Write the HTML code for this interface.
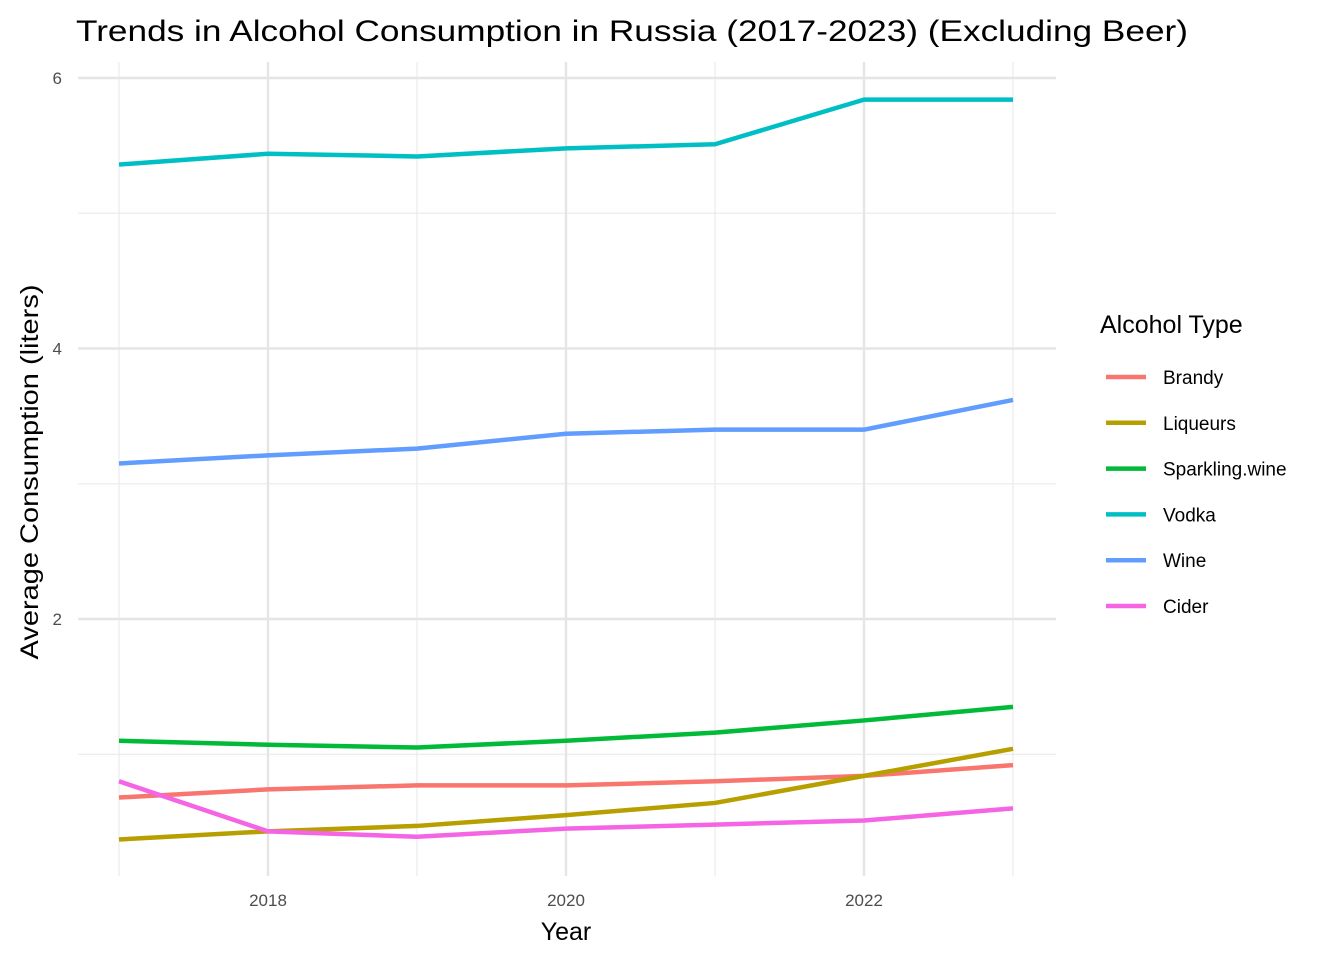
<!DOCTYPE html>
<html><head><meta charset="utf-8"><style>
body{margin:0;background:#fff;}
svg text{font-family:"Liberation Sans",Arial,sans-serif;}
</style></head><body>
<svg id="chart" width="1344" height="960" xmlns="http://www.w3.org/2000/svg">
<text x="76" y="41" font-size="30" textLength="1112" lengthAdjust="spacingAndGlyphs" fill="#000">Trends in Alcohol Consumption in Russia (2017-2023) (Excluding Beer)</text>
<g id="grid"></g>
<g id="lines"></g>
<g id="axes"></g>
<g id="legend"></g>
<text x="566" y="940" font-size="25" text-anchor="middle">Year</text>
<text transform="translate(38,472) rotate(-90)" font-size="25" textLength="375" lengthAdjust="spacingAndGlyphs" text-anchor="middle">Average Consumption (liters)</text>
</svg>
<script>
const years=[2017,2018,2019,2020,2021,2022,2023];
const seriesNames=["Brandy","Liqueurs","Sparkling.wine","Vodka","Wine","Cider"];
const seriesColors=["#F8766D","#B79F00","#00BA38","#00BFC4","#619CFF","#F564E3"];
const brandy=[0.68,0.74,0.77,0.77,0.80,0.84,0.92];
const liqueurs=[0.37,0.43,0.47,0.55,0.64,0.84,1.04];
const sparkling=[1.10,1.07,1.05,1.10,1.16,1.25,1.35];
const vodka=[5.36,5.44,5.42,5.48,5.51,5.84,5.84];
const wine=[3.15,3.21,3.26,3.37,3.40,3.40,3.62];
const cider=[0.80,0.43,0.39,0.45,0.48,0.51,0.60];
const yTicks=[2,4,6];
const xTicks=[2018,2020,2022];
const allSeries=[brandy,liqueurs,sparkling,vodka,wine,cider];
const X=v=>119+(v-2017)*149;
const Y=v=>889.5-v*135.25;
const NS="http://www.w3.org/2000/svg";
function mk(tag,attrs,parent,text){const e=document.createElementNS(NS,tag);for(const k in attrs)e.setAttribute(k,attrs[k]);if(text!==undefined)e.textContent=text;document.getElementById(parent).appendChild(e);return e;}
const pTop=62,pBot=876,pLeft=78,pRight=1056;
for(let v=1;v<=5;v+=2){const e=mk("line",{x1:pLeft,x2:pRight,y1:Y(v),y2:Y(v),stroke:"#ebebeb","stroke-width":1.2},"grid");

}
for(let y=2017;y<=2023;y+=2){const e=mk("line",{x1:X(y),x2:X(y),y1:pTop,y2:pBot,stroke:"#ebebeb","stroke-width":1.2},"grid");

}
yTicks.forEach(v=>{const e=mk("line",{x1:pLeft,x2:pRight,y1:Y(v),y2:Y(v),stroke:"#e5e5e5","stroke-width":2.4},"grid");


const t=mk("text",{x:62,y:Y(v)+6,"font-size":17,fill:"#4d4d4d","text-anchor":"end"},"axes",String(v));

});
xTicks.forEach(v=>{const e=mk("line",{x1:X(v),x2:X(v),y1:pTop,y2:pBot,stroke:"#e5e5e5","stroke-width":2.4},"grid");


const t=mk("text",{x:X(v),y:906,"font-size":17,fill:"#4d4d4d","text-anchor":"middle"},"axes",String(v));

});
allSeries.forEach((s,i)=>{const pts=s.map((v,j)=>X(years[j])+","+Y(v)).join(" ");
const p=mk("polyline",{points:pts,fill:"none",stroke:seriesColors[i],"stroke-width":4.5,"stroke-linejoin":"round"},"lines");

});
const lt=mk("text",{x:1100,y:333,"font-size":25},"legend","Alcohol Type");


seriesNames.forEach((n,i)=>{const y=377+i*45.8;
const l=mk("line",{x1:1106,x2:1146,y1:y,y2:y,stroke:seriesColors[i],"stroke-width":4.5},"legend");


const t=mk("text",{x:1163,y:y+7,"font-size":19},"legend",n);

});
</script>
</body></html>
